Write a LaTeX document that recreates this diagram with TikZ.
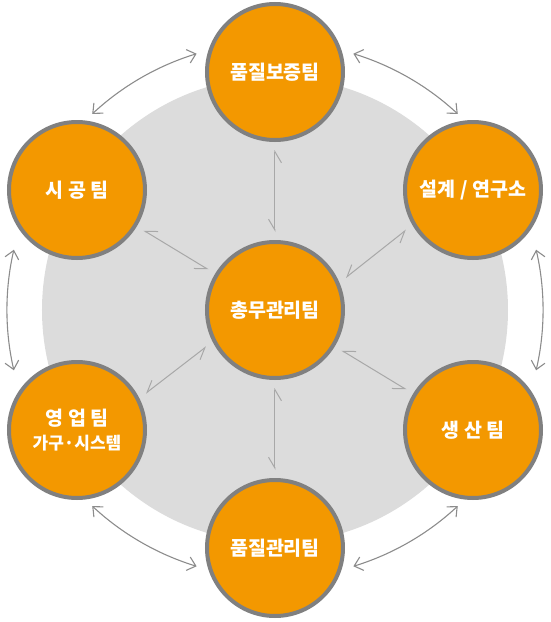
\documentclass[tikz,border=0pt]{standalone}
\usepackage{fontspec}
\newfontfamily\krfont{Noto Sans CJK KR}
\usetikzlibrary{arrows.meta}
\definecolor{teamorange}{HTML}{F39800}
\definecolor{ringgray}{HTML}{808080}
\definecolor{bggray}{HTML}{DCDCDC}
\definecolor{linkgray}{HTML}{A8A8A8}
\definecolor{arcgray}{HTML}{8C8C8C}
\tikzset{
  team/.style={draw=ringgray, fill=teamorange, circle, line width=4pt, minimum size=136pt, inner sep=0pt, align=center, text=white, font=\krfont\bfseries\fontsize{19.5}{23}\selectfont},
  link/.style={{Straight Barb[harpoon,swap,length=11pt,width=13pt]}-{Straight Barb[harpoon,swap,length=11pt,width=13pt]}, draw=linkgray, line width=1pt, shorten <=8pt, shorten >=8pt},
  ring/.style={{Straight Barb[length=8pt,width=14pt]}-{Straight Barb[length=8pt,width=14pt]}, draw=arcgray, line width=1.1pt},
}
\begin{document}
\begin{tikzpicture}[x=1pt, y=1pt]
\useasboundingbox (-275,-312) rectangle (275,310);

% Background disc
\fill[bggray] (0,0) circle (233);

% Teams
\node[team] (chief) at (0,0) {총무관리팀};
\node[team] (qa) at (0,238) {품질보증팀};
\node[team] (design) at (198,120) {설계 / 연구소};
\node[team] (prod) at (198,-120) {생 산 팀};
\node[team] (qc) at (0,-238) {품질관리팀};
\node[team] (sales) at (-198,-120) {영 업 팀\\[1pt]{\fontsize{17}{20}\selectfont 가구·시스템}};
\node[team] (build) at (-198,120) {시 공 팀};

% Links to the centre
\draw[link] (chief) -- (qa);
\draw[link] (chief.23) -- (design.210);
\draw[link] (chief) -- (prod);
\draw[link] (chief) -- (qc);
\draw[link] (chief.207) -- (sales.27);
\draw[link] (chief) -- (build);

% Outer ring arrows
\draw[ring] ([shift={(73:268)}]chief.center) arc[start angle=73, end angle=47, radius=268];
\draw[ring] ([shift={(13:268)}]chief.center) arc[start angle=13, end angle=-13, radius=268];
\draw[ring] ([shift={(-47:268)}]chief.center) arc[start angle=-47, end angle=-73, radius=268];
\draw[ring] ([shift={(-107:268)}]chief.center) arc[start angle=-107, end angle=-133, radius=268];
\draw[ring] ([shift={(167:268)}]chief.center) arc[start angle=167, end angle=193, radius=268];
\draw[ring] ([shift={(133:268)}]chief.center) arc[start angle=133, end angle=107, radius=268];

\end{tikzpicture}
\end{document}
